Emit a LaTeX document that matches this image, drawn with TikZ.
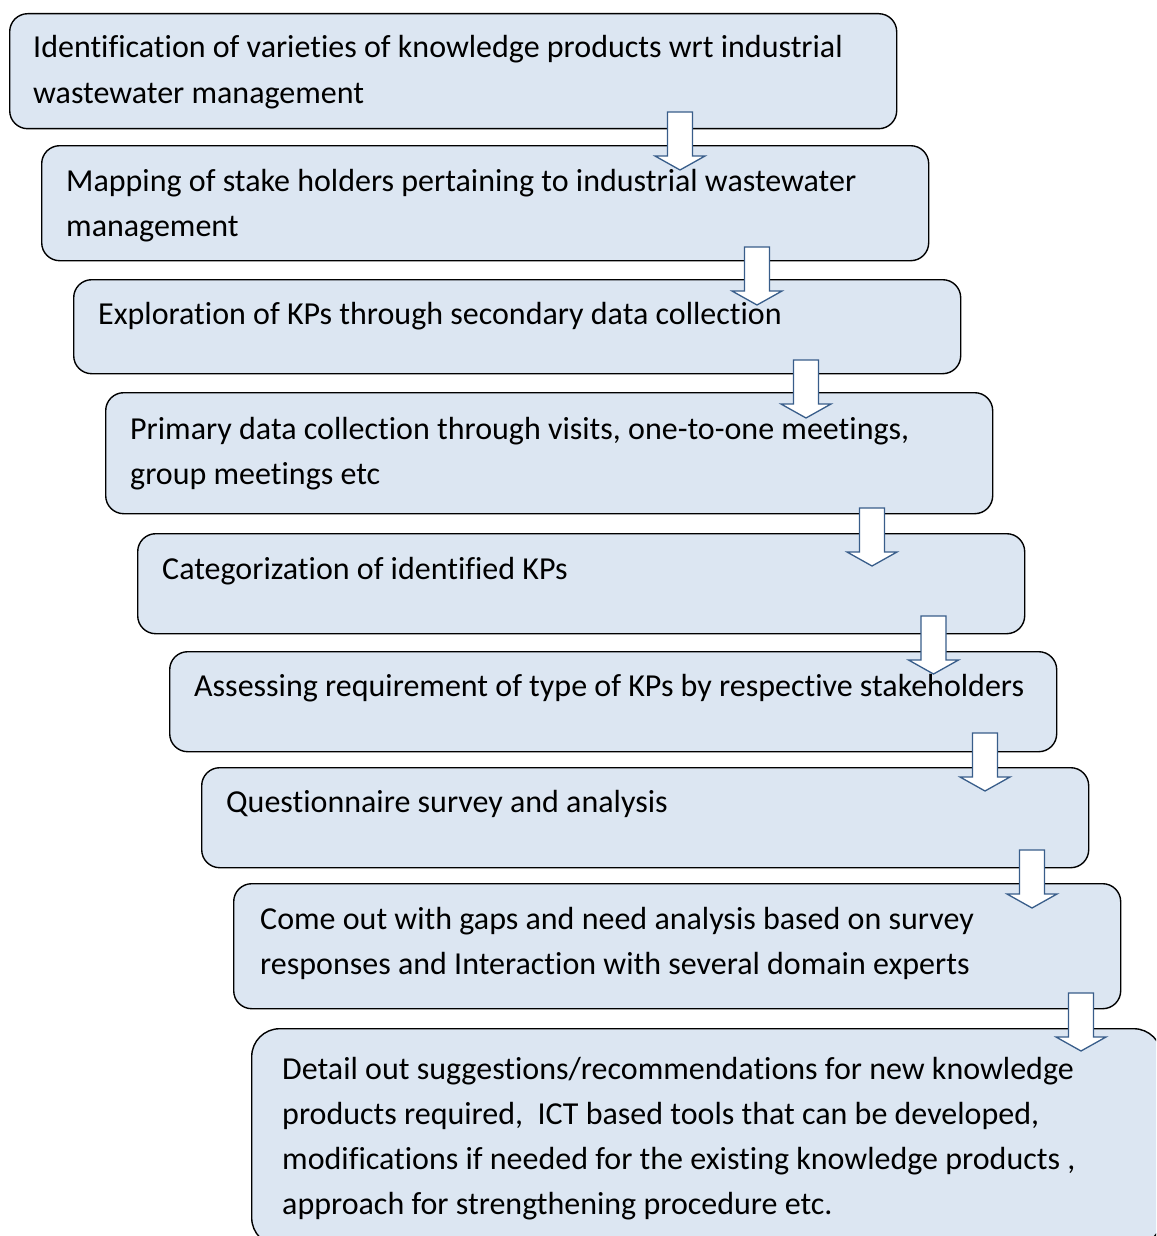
\documentclass[tikz,border=0pt]{standalone}
\usepackage{fontspec}
\setmainfont[Ligatures=CommonOff]{Carlito}
\usetikzlibrary{calc}
\definecolor{boxfill}{HTML}{DCE6F2}
\definecolor{arrowline}{HTML}{385D8A}
\tikzset{
  stepbox/.style={draw=black, line width=1.4pt, fill=boxfill, rounded corners=18pt,
    inner sep=0pt, anchor=north west},
  % anchored at the baseline of the last line of the text
  steptext/.style={anchor=base west, align=left, inner sep=0pt,
    font=\fontsize{32pt}{45pt}\selectfont},
  blockarrow/.style={draw=arrowline, line width=1.3pt, fill=white, line join=miter},
}
% block arrow pointing down: centre x, top y (y grows downward)
\newcommand{\downarrowat}[3]{%
  \coordinate (#1) at (#2,#3);
  \draw[blockarrow] ($(#1)+(-12.5,0)$) -- ($(#1)+(12.5,0)$) -- ($(#1)+(12.5,44)$)
    -- ($(#1)+(25,44)$) -- ($(#1)+(0,58)$) -- ($(#1)+(-25,44)$)
    -- ($(#1)+(-12.5,44)$) -- cycle;}
\begin{document}
\begin{tikzpicture}[x=1pt,y=-1pt]
\useasboundingbox (0,0) rectangle (1156,1236);
\clip (0,0) rectangle (1156,1236);

% process boxes
\node[stepbox, minimum width=887pt, minimum height=115pt] (b1) at (9,13) {};
\node[stepbox, minimum width=887pt, minimum height=115pt] (b2) at (41,145) {};
\node[stepbox, minimum width=887pt, minimum height=94pt] (b3) at (73,279) {};
\node[stepbox, minimum width=887pt, minimum height=121pt] (b4) at (105,392) {};
\node[stepbox, minimum width=887pt, minimum height=100pt] (b5) at (137,533) {};
\node[stepbox, minimum width=887pt, minimum height=100pt] (b6) at (169,651) {};
\node[stepbox, minimum width=887pt, minimum height=100pt] (b7) at (201,767) {};
\node[stepbox, minimum width=887pt, minimum height=125pt] (b8) at (233,883) {};
\node[stepbox, rounded corners=28pt, minimum width=910pt, minimum height=217pt] (b9) at (251,1028) {};

% box texts
\node[steptext] (t1) at (33,103) {Identification of varieties of knowledge products wrt industrial\\wastewater management};
\node[steptext] (t2) at (66,236) {Mapping of stake holders pertaining to industrial wastewater\\management};
\node[steptext] (t3) at (98,324) {Exploration of KPs through secondary data collection};
\node[steptext] (t4) at (130,484) {Primary data collection through visits, one-to-one meetings,\\group meetings etc};
\node[steptext] (t5) at (162,579) {Categorization of identified KPs};
\node[steptext] (t6) at (194,696) {Assessing requirement of type of KPs by respective stakeholders};
\node[steptext] (t7) at (226,812) {Questionnaire survey and analysis};
\node[steptext] (t8) at (260,974) {Come out with gaps and need analysis based on survey\\responses and Interaction with several domain experts};
\node[steptext] (t9) at (282,1214) {Detail out suggestions/recommendations for new knowledge\\products required,\ \ ICT based tools that can be developed,\\modifications if needed for the existing knowledge products ,\\approach for strengthening procedure etc.};

% arrows linking consecutive steps
\downarrowat{a1}{680}{112}
\downarrowat{a2}{757}{247}
\downarrowat{a3}{806}{360}
\downarrowat{a4}{872}{508}
\downarrowat{a5}{933.5}{616}
\downarrowat{a6}{985}{733}
\downarrowat{a7}{1032}{850}
\downarrowat{a8}{1081}{993}
\end{tikzpicture}
\end{document}
